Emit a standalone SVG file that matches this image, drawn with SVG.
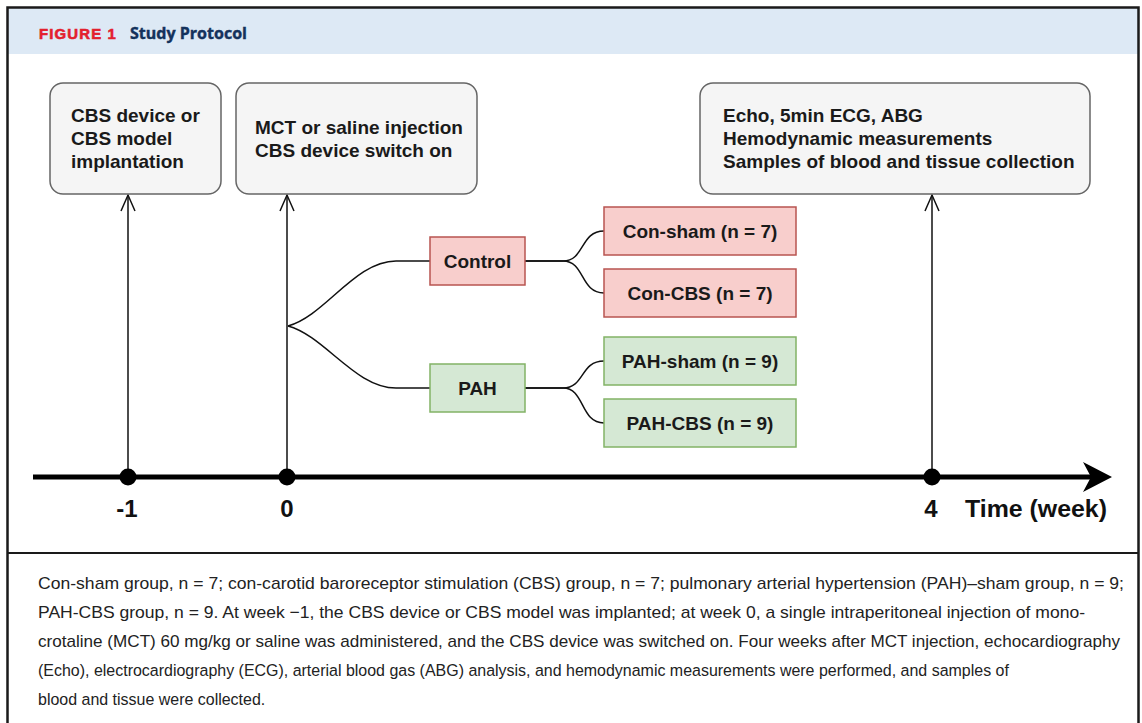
<svg xmlns="http://www.w3.org/2000/svg" width="1142" height="723" viewBox="0 0 1142 723">
<style>
.frame{fill:none;stroke:#1a1a1a;stroke-width:2.5}
.box{fill:#f5f5f5;stroke:#666666;stroke-width:1.5}
.red{fill:#f8cecc;stroke:#b85450;stroke-width:1.5}
.green{fill:#d5e8d4;stroke:#82b366;stroke-width:1.5}
.t{font-family:"Liberation Sans",Arial,sans-serif;font-weight:bold;font-size:19px;fill:#1a1a1a}
.c{text-anchor:middle}
.ax{font-family:"Liberation Sans",Arial,sans-serif;font-weight:bold;font-size:24px;fill:#111}
.cap{font-family:"Liberation Sans",Arial,sans-serif;font-size:17px;fill:#222}
.conn{fill:none;stroke:#111;stroke-width:1.5}
</style>
<defs>
<marker id="open" markerUnits="userSpaceOnUse" markerWidth="24" markerHeight="24" viewBox="-20 -12 24 24" refX="0" refY="0" orient="auto">
<path d="M-16,-7 L0,0 L-16,7" fill="none" stroke="#111" stroke-width="1.5"/>
</marker>
</defs>
<rect x="0" y="0" width="1142" height="723" fill="#ffffff"/>
<g id="header">
<rect x="8" y="8" width="1130" height="46" fill="#dde9f5"/>
<text x="39" y="39" font-family="'Liberation Sans',Arial,sans-serif" font-weight="bold" font-size="15.5" fill="#e3202e" letter-spacing="1.2" textLength="78" lengthAdjust="spacingAndGlyphs" stroke="#e3202e" stroke-width="0.6">FIGURE 1</text>
<text x="130" y="39" font-family="'Open Sans',Lato,sans-serif" font-weight="bold" font-size="16" fill="#14325c" textLength="117" lengthAdjust="spacingAndGlyphs" stroke="#14325c" stroke-width="0.4">Study Protocol</text>
</g>
<g id="frame">
<path class="frame" d="M7.5,723 V7.5 H1138.5 V723"/>
<line x1="7" y1="553" x2="1139" y2="553" stroke="#1a1a1a" stroke-width="1.8"/>
</g>
<g id="connectors">
<line class="conn" x1="128" y1="477" x2="128" y2="195" marker-end="url(#open)"/>
<line class="conn" x1="287" y1="477" x2="287" y2="195" marker-end="url(#open)"/>
<line class="conn" x1="932" y1="477" x2="932" y2="195" marker-end="url(#open)"/>
<path class="conn" d="M288,326 C325,316 355,261 396,261 L430,261"/>
<path class="conn" d="M288,326 C325,336 355,388 396,388 L430,388"/>
<path class="conn" d="M525,261 L563,261 C585,261 580,231 604,231"/>
<path class="conn" d="M525,261 L563,261 C585,261 580,293 604,293"/>
<path class="conn" d="M525,388 L563,388 C585,388 580,361 604,361"/>
<path class="conn" d="M525,388 L563,388 C585,388 580,423 604,423"/>
</g>
<g id="timeline">
<line x1="33" y1="477" x2="1092" y2="477" stroke="#000" stroke-width="5"/>
<polygon points="1112,477 1083,462 1091,477 1083,492" fill="#000"/>
<circle cx="128" cy="477" r="8.5" fill="#000"/>
<circle cx="287" cy="477" r="8.5" fill="#000"/>
<circle cx="932" cy="477" r="8.5" fill="#000"/>
<text class="ax c" x="127" y="517">-1</text>
<text class="ax c" x="287" y="517">0</text>
<text class="ax c" x="931" y="517">4</text>
<text class="ax" x="965" y="517" textLength="142" lengthAdjust="spacingAndGlyphs">Time (week)</text>
</g>
<g id="node-implant">
<rect class="box" x="50" y="83" width="171" height="111" rx="13"/>
<text class="t" x="71" y="122">CBS device or</text>
<text class="t" x="71" y="145">CBS model</text>
<text class="t" x="71" y="168">implantation</text>
</g>
<g id="node-injection">
<rect class="box" x="236" y="83" width="241" height="111" rx="13"/>
<text class="t" x="255" y="134">MCT or saline injection</text>
<text class="t" x="255" y="157">CBS device switch on</text>
</g>
<g id="node-measure">
<rect class="box" x="700" y="83" width="390" height="111" rx="13"/>
<text class="t" x="723" y="122">Echo, 5min ECG, ABG</text>
<text class="t" x="723" y="145">Hemodynamic measurements</text>
<text class="t" x="723" y="168">Samples of blood and tissue collection</text>
</g>
<g id="node-control">
<rect class="red" x="430" y="237" width="95" height="48"/>
<text class="t c" x="477.5" y="268">Control</text>
</g>
<g id="node-pah">
<rect class="green" x="430" y="364" width="95" height="48"/>
<text class="t c" x="477.5" y="395">PAH</text>
</g>
<g id="node-con-sham">
<rect class="red" x="604" y="207" width="192" height="48"/>
<text class="t c" x="700" y="238">Con-sham (n = 7)</text>
</g>
<g id="node-con-cbs">
<rect class="red" x="604" y="269" width="192" height="48"/>
<text class="t c" x="700" y="300">Con-CBS (n = 7)</text>
</g>
<g id="node-pah-sham">
<rect class="green" x="604" y="337" width="192" height="48"/>
<text class="t c" x="700" y="368">PAH-sham (n = 9)</text>
</g>
<g id="node-pah-cbs">
<rect class="green" x="604" y="399" width="192" height="48"/>
<text class="t c" x="700" y="430">PAH-CBS (n = 9)</text>
</g>
<g id="caption">
<text class="cap" x="38" y="589" textLength="1086" lengthAdjust="spacingAndGlyphs">Con-sham group, n = 7; con-carotid baroreceptor stimulation (CBS) group, n = 7; pulmonary arterial hypertension (PAH)–sham group, n = 9;</text>
<text class="cap" x="38" y="618" textLength="1047" lengthAdjust="spacingAndGlyphs">PAH-CBS group, n = 9. At week −1, the CBS device or CBS model was implanted; at week 0, a single intraperitoneal injection of mono-</text>
<text class="cap" x="38" y="647" textLength="1082" lengthAdjust="spacingAndGlyphs">crotaline (MCT) 60 mg/kg or saline was administered, and the CBS device was switched on. Four weeks after MCT injection, echocardiography</text>
<text class="cap" transform="translate(38,676) scale(0.94,1)" x="0" y="0">(Echo), electrocardiography (ECG), arterial blood gas (ABG) analysis, and hemodynamic measurements were performed, and samples of</text>
<text class="cap" transform="translate(38,705) scale(0.94,1)" x="0" y="0">blood and tissue were collected.</text>
</g>
</svg>
